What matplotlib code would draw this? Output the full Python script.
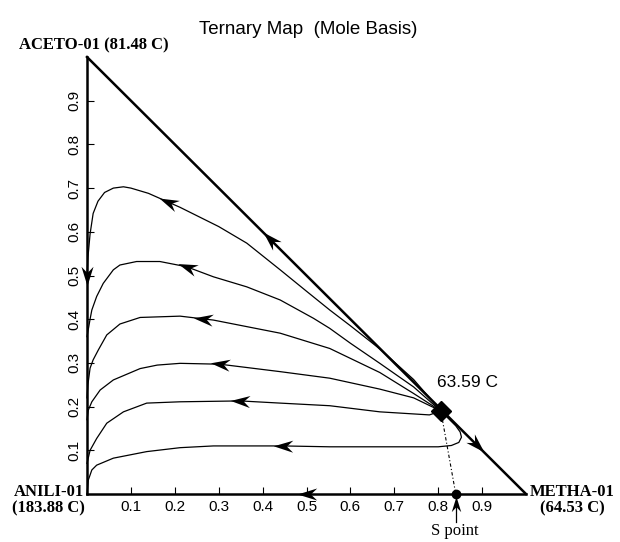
import numpy as np
import matplotlib
matplotlib.use('Agg')
import matplotlib.pyplot as plt
from matplotlib.path import Path
from matplotlib.markers import MarkerStyle
from matplotlib.transforms import Affine2D

# ~~~~~~~~~~~~~~~~~~~~~~~~~~~~~~~~~~~~~~~~~~~~~~~~~~~~~~~~~~~~~
# data (x = METHA-01 mole fraction, y = ACETO-01 mole fraction)
# ~~~~~~~~~~~~~~~~~~~~~~~~~~~~~~~~~~~~~~~~~~~~~~~~~~~~~~~~~~~~~
title = 'Ternary Map  (Mole Basis)'
top_label = 'ACETO-01 (81.48 C)'
left_label = 'ANILI-01\n(183.88 C)'
right_label = 'METHA-01\n(64.53 C)'

azeo_x, azeo_y = 0.806, 0.19
azeo_label = '63.59 C'
s_point_x = 0.84
s_point_label = 'S point'

ticks = [0.1, 0.2, 0.3, 0.4, 0.5, 0.6, 0.7, 0.8, 0.9]
tick_labels = ['0.1', '0.2', '0.3', '0.4', '0.5', '0.6', '0.7', '0.8', '0.9']

# residue curves, azeotrope -> ANILI vertex
curve1_x = [0.806, 0.744, 0.667, 0.60, 0.553, 0.50, 0.44, 0.364, 0.30, 0.212,
            0.185, 0.14, 0.10, 0.083, 0.06, 0.040, 0.025, 0.014, 0.007, 0.002, 0.0]
curve1_y = [0.19, 0.262, 0.332, 0.385, 0.421, 0.464, 0.513, 0.574, 0.612, 0.656,
            0.668, 0.688, 0.700, 0.703, 0.700, 0.690, 0.670, 0.642, 0.595, 0.540, 0.50]

curve2_x = [0.806, 0.744, 0.667, 0.60, 0.553, 0.516, 0.44, 0.364, 0.288, 0.227,
            0.166, 0.113, 0.075, 0.06, 0.037, 0.022, 0.011, 0.007, 0.0]
curve2_y = [0.19, 0.245, 0.299, 0.345, 0.379, 0.402, 0.444, 0.474, 0.497, 0.520,
            0.532, 0.532, 0.524, 0.513, 0.482, 0.452, 0.421, 0.40, 0.36]

curve3_x = [0.806, 0.744, 0.667, 0.553, 0.44, 0.288, 0.212, 0.121, 0.075, 0.045,
            0.026, 0.014, 0.007, 0.002, 0.0]
curve3_y = [0.19, 0.23, 0.278, 0.333, 0.368, 0.398, 0.407, 0.404, 0.389, 0.364,
            0.33, 0.307, 0.288, 0.25, 0.22]

curve4_x = [0.806, 0.744, 0.667, 0.553, 0.44, 0.303, 0.212, 0.16, 0.121, 0.06,
            0.03, 0.011, 0.003, 0.0]
curve4_y = [0.19, 0.22, 0.24, 0.265, 0.28, 0.297, 0.299, 0.295, 0.287, 0.261,
            0.238, 0.211, 0.192, 0.17]

curve5_x = [0.806, 0.78, 0.667, 0.553, 0.44, 0.349, 0.212, 0.136, 0.083, 0.045,
            0.022, 0.007, 0.0]
curve5_y = [0.19, 0.181, 0.188, 0.202, 0.208, 0.213, 0.211, 0.208, 0.188, 0.162,
            0.127, 0.10, 0.07]

curve6_x = [0.806, 0.84, 0.85, 0.853, 0.847, 0.83, 0.80, 0.70, 0.553, 0.447,
            0.288, 0.212, 0.136, 0.06, 0.022, 0.011, 0.003, 0.0]
curve6_y = [0.19, 0.156, 0.142, 0.13, 0.118, 0.111, 0.108, 0.108, 0.108, 0.11,
            0.11, 0.106, 0.097, 0.082, 0.066, 0.055, 0.032, 0.0]

curves_x = [curve1_x, curve2_x, curve3_x, curve4_x, curve5_x, curve6_x]
curves_y = [curve1_y, curve2_y, curve3_y, curve4_y, curve5_y, curve6_y]
curve_arrow_x = [0.185, 0.227, 0.265, 0.303, 0.349, 0.447]

# arrows on the triangle edges: (x, y, direction in degrees)
edge_arrows = [(0.417, 0.583, 135.0), (0.888, 0.112, -45.0),
               (0.0, 0.50, -90.0), (0.50, 0.0, 180.0)]


# arrow head marker pointing along +x, rotated to the given angle
head_path = Path([(1.0, 0.0), (-1.0, 0.62), (-0.35, 0.0), (-1.0, -0.62), (1.0, 0.0)],
                 [Path.MOVETO, Path.LINETO, Path.LINETO, Path.LINETO, Path.CLOSEPOLY])


def arrow_head(ax, x, y, angle, size=14):
    m = MarkerStyle(head_path, transform=Affine2D().rotate_deg(angle))
    ax.plot([x], [y], linestyle='none', marker=m, markersize=size,
            color='black', markeredgewidth=0, clip_on=False, zorder=5)


fig = plt.figure(figsize=(6.2, 5.42), dpi=100)
ax = fig.add_axes([87 / 620, 48 / 542, 439 / 620, 437 / 542])
ax.set_xlim(0, 1)
ax.set_ylim(0, 1)

for sp in ['top', 'right']:
    ax.spines[sp].set_visible(False)
for sp in ['left', 'bottom']:
    ax.spines[sp].set_linewidth(1.8)

# hypotenuse
ax.plot([0, 1], [1, 0], color='black', linewidth=1.8, clip_on=False, zorder=4)

# residue curves with their direction arrows
for cx, cy, ax0 in zip(curves_x, curves_y, curve_arrow_x):
    ax.plot(cx, cy, color='black', linewidth=0.9, clip_on=False, zorder=3)
    for i in range(len(cx) - 1):
        if cx[i + 1] <= ax0 <= cx[i]:
            t = (cx[i] - ax0) / (cx[i] - cx[i + 1])
            yy = cy[i] + t * (cy[i + 1] - cy[i])
            ang = np.degrees(np.arctan2(cy[i + 1] - cy[i], cx[i + 1] - cx[i]))
            arrow_head(ax, ax0, yy, ang)
            break

for ex, ey, ang in edge_arrows:
    arrow_head(ax, ex, ey, ang)

# azeotrope, S point and the line joining them
ax.plot([azeo_x, s_point_x], [azeo_y, 0], color='black', linewidth=0.8,
        linestyle='-.', dashes=(3, 2, 1, 2), zorder=3)
ax.plot([azeo_x], [azeo_y], marker='D', markersize=10, color='black',
        linestyle='none', zorder=6)
ax.plot([s_point_x], [0], marker='o', markersize=6, color='black',
        linestyle='none', clip_on=False, zorder=6)
ax.plot([s_point_x, s_point_x], [-0.065, -0.015], color='black', linewidth=0.9,
        clip_on=False)
arrow_head(ax, s_point_x, -0.022, 90.0, size=11)

# ticks
ax.set_xticks(ticks)
ax.set_xticklabels(tick_labels)
ax.set_yticks(ticks)
ax.set_yticklabels(tick_labels, rotation=90, va='center')
ax.tick_params(direction='in', length=5, width=0.8, labelsize=11, pad=4)
for lab in ax.get_xticklabels() + ax.get_yticklabels():
    lab.set_family('Liberation Sans')

# labels
serif = dict(family='Liberation Serif', fontweight='bold', fontsize=12)
ax.text(0.016, 1.027, top_label, ha='center', va='center', clip_on=False, **serif)
ax.text(-0.004, -0.014, left_label, ha='right', va='center', multialignment='center',
        linespacing=1.0, **serif)
ax.text(1.009, -0.014, right_label, ha='left', va='center', multialignment='center',
        linespacing=1.0, **serif)
ax.text(0.797, 0.256, azeo_label, ha='left', va='center',
        family='Liberation Sans', fontsize=12.5)
ax.text(0.838, -0.085, s_point_label, ha='center', va='center',
        family='Liberation Serif', fontsize=12)

fig.text(0.497, 1 - 30 / 542, title, ha='center', va='center',
         family='Liberation Sans', fontsize=13.5)

plt.savefig('out.png', dpi=100)
plt.close(fig)
